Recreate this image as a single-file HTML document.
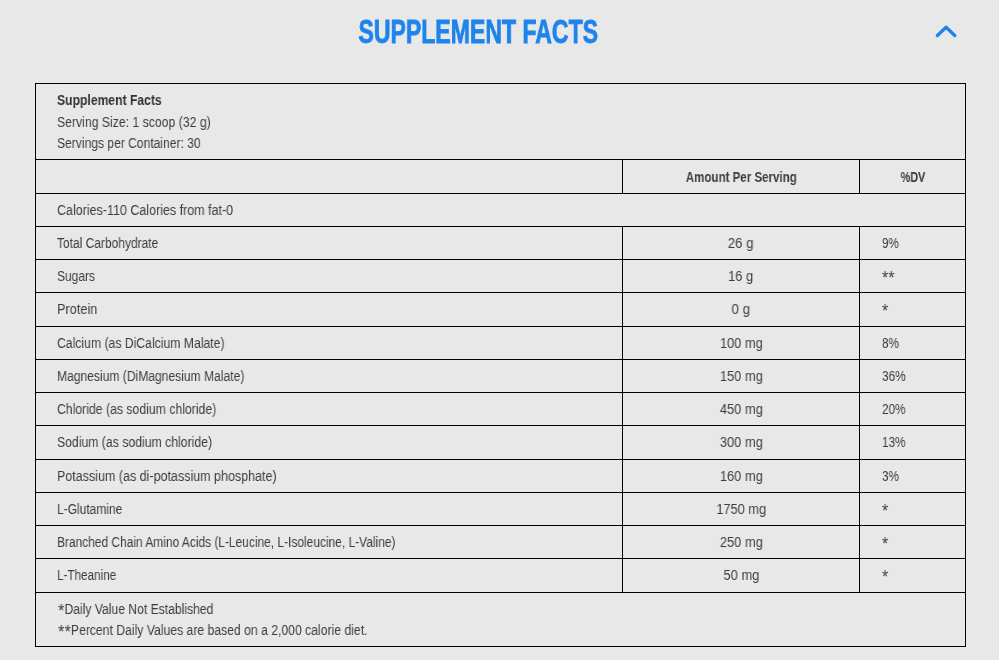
<!DOCTYPE html>
<html><head><meta charset="utf-8"><style>
html,body{margin:0;padding:0;}
body{width:999px;height:660px;background:#e8e8e8;position:relative;overflow:hidden;font-family:"Liberation Sans",sans-serif;}
.h{position:absolute;left:35px;width:931px;height:1px;background:#000;}
.v{position:absolute;width:1px;background:#000;}
.t{will-change:transform;position:absolute;white-space:nowrap;font-size:14px;line-height:14px;color:#3d3d3d;transform-origin:0 0;}
.b{font-weight:bold;color:#333;}
.ast{font-size:19px;line-height:0;position:relative;top:3px;}
.c{position:absolute;white-space:nowrap;font-size:14px;line-height:14px;color:#3d3d3d;text-align:center;}
.c span{will-change:transform;display:inline-block;transform-origin:50% 0;}
.title{position:absolute;left:0;width:999px;top:15.6px;text-align:center;font-size:32.6px;line-height:32.6px;font-weight:bold;color:#1e84ec;-webkit-text-stroke:0.8px #1e84ec;}
.title span{will-change:transform;display:inline-block;transform:scaleX(0.708);transform-origin:50% 0;}
</style></head><body>
<div class="title" style="margin-left:-21px"><span>SUPPLEMENT FACTS</span></div>
<svg style="position:absolute;left:0;top:0" width="999" height="60"><polyline points="937.4,35.5 946.1,27.3 954.8,35.5" fill="none" stroke="#1e84ec" stroke-width="3.3" stroke-linecap="round" stroke-linejoin="round"/></svg>
<div class="h" style="top:83px"></div><div class="h" style="top:159px"></div><div class="h" style="top:193px"></div><div class="h" style="top:226px"></div><div class="h" style="top:259px"></div><div class="h" style="top:292px"></div><div class="h" style="top:326px"></div><div class="h" style="top:359px"></div><div class="h" style="top:392px"></div><div class="h" style="top:425px"></div><div class="h" style="top:459px"></div><div class="h" style="top:492px"></div><div class="h" style="top:525px"></div><div class="h" style="top:558px"></div><div class="h" style="top:592px"></div><div class="h" style="top:646px"></div>
<div class="v" style="left:35px;top:83px;height:564px"></div><div class="v" style="left:965px;top:83px;height:564px"></div><div class="v" style="left:622px;top:159px;height:35px"></div><div class="v" style="left:622px;top:226px;height:367px"></div><div class="v" style="left:859px;top:159px;height:35px"></div><div class="v" style="left:859px;top:226px;height:367px"></div>
<div class="t b" style="left:57.2px;top:93.2px;transform:scaleX(0.8681)">Supplement Facts</div><div class="t" style="left:57.2px;top:115.3px;transform:scaleX(0.8741)">Serving Size: 1 scoop (32 g)</div><div class="t" style="left:57.2px;top:135.9px;transform:scaleX(0.8624)">Servings per Container: 30</div>
<div class="c b" style="left:641px;width:200px;top:169.7px"><span style="transform:scaleX(0.8246)">Amount Per Serving</span></div><div class="c b" style="left:813px;width:200px;top:169.7px"><span style="transform:scaleX(0.7719)">%DV</span></div>
<div class="t" style="left:57.2px;top:202.7px;transform:scaleX(0.8923)">Calories-110 Calories from fat-0</div>
<div class="t" style="left:57.2px;top:235.7px;transform:scaleX(0.8559)">Total Carbohydrate</div><div class="c" style="left:641px;width:200px;top:235.7px"><span style="transform:scaleX(0.944)">26 g</span></div><div class="t" style="left:881.6px;top:235.7px;transform:scaleX(0.8316)">9%</div>
<div class="t" style="left:57.2px;top:268.7px;transform:scaleX(0.8558)">Sugars</div><div class="c" style="left:641px;width:200px;top:268.7px"><span style="transform:scaleX(0.92)">16 g</span></div><div class="t" style="left:881.6px;top:268.7px;transform:scaleX(0.84)"><span class="ast">**</span></div>
<div class="t" style="left:57.2px;top:301.7px;transform:scaleX(0.9095)">Protein</div><div class="c" style="left:641px;width:200px;top:301.7px"><span style="transform:scaleX(0.9444)">0 g</span></div><div class="t" style="left:881.6px;top:301.7px;transform:scaleX(0.84)"><span class="ast">*</span></div>
<div class="t" style="left:57.2px;top:335.7px;transform:scaleX(0.8716)">Calcium (as DiCalcium Malate)</div><div class="c" style="left:641px;width:200px;top:335.7px"><span style="transform:scaleX(0.9156)">100 mg</span></div><div class="t" style="left:881.6px;top:335.7px;transform:scaleX(0.84)">8%</div>
<div class="t" style="left:57.2px;top:368.7px;transform:scaleX(0.8628)">Magnesium (DiMagnesium Malate)</div><div class="c" style="left:641px;width:200px;top:368.7px"><span style="transform:scaleX(0.92)">150 mg</span></div><div class="t" style="left:881.6px;top:368.7px;transform:scaleX(0.8481)">36%</div>
<div class="t" style="left:57.2px;top:401.7px;transform:scaleX(0.8744)">Chloride (as sodium chloride)</div><div class="c" style="left:641px;width:200px;top:401.7px"><span style="transform:scaleX(0.92)">450 mg</span></div><div class="t" style="left:881.6px;top:401.7px;transform:scaleX(0.84)">20%</div>
<div class="t" style="left:57.2px;top:434.7px;transform:scaleX(0.8739)">Sodium (as sodium chloride)</div><div class="c" style="left:641px;width:200px;top:434.7px"><span style="transform:scaleX(0.92)">300 mg</span></div><div class="t" style="left:881.6px;top:434.7px;transform:scaleX(0.84)">13%</div>
<div class="t" style="left:57.2px;top:468.7px;transform:scaleX(0.893)">Potassium (as di-potassium phosphate)</div><div class="c" style="left:641px;width:200px;top:468.7px"><span style="transform:scaleX(0.92)">160 mg</span></div><div class="t" style="left:881.6px;top:468.7px;transform:scaleX(0.84)">3%</div>
<div class="t" style="left:57.2px;top:501.7px;transform:scaleX(0.856)">L-Glutamine</div><div class="c" style="left:641px;width:200px;top:501.7px"><span style="transform:scaleX(0.9132)">1750 mg</span></div><div class="t" style="left:881.6px;top:501.7px;transform:scaleX(0.84)"><span class="ast">*</span></div>
<div class="t" style="left:57.2px;top:534.7px;transform:scaleX(0.8532)">Branched Chain Amino Acids (L-Leucine, L-Isoleucine, L-Valine)</div><div class="c" style="left:641px;width:200px;top:534.7px"><span style="transform:scaleX(0.92)">250 mg</span></div><div class="t" style="left:881.6px;top:534.7px;transform:scaleX(0.84)"><span class="ast">*</span></div>
<div class="t" style="left:57.2px;top:567.7px;transform:scaleX(0.8362)">L-Theanine</div><div class="c" style="left:641px;width:200px;top:567.7px"><span style="transform:scaleX(0.9243)">50 mg</span></div><div class="t" style="left:881.6px;top:567.7px;transform:scaleX(0.84)"><span class="ast">*</span></div>
<div class="t" style="left:58.0px;top:601.5px;transform:scaleX(0.8675)"><span class="ast">*</span>Daily Value Not Established</div><div class="t" style="left:58.0px;top:623.0px;transform:scaleX(0.8708)"><span class="ast">**</span>Percent Daily Values are based on a 2,000 calorie diet.</div>
</body></html>
